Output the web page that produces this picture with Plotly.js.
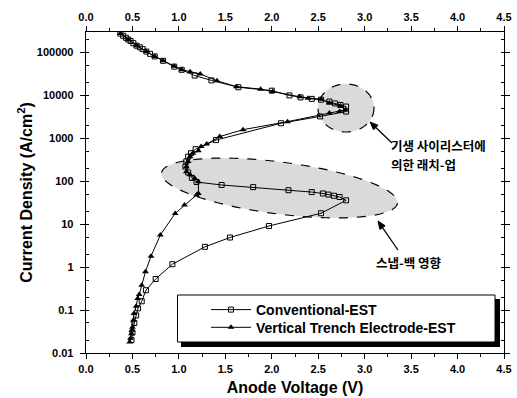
<!DOCTYPE html>
<html>
<head>
<meta charset="utf-8">
<script src="https://cdn.plot.ly/plotly-3.0.1.min.js"></script>
<style>html,body{margin:0;padding:0;background:#fff;}#chart{width:517px;height:398px;}</style>
</head>
<body>
<div id="chart"></div>
<script>
// ---- data ----
const convV = [0.49, 0.50, 0.52, 0.54, 0.56, 0.60, 0.645, 0.75, 0.93, 1.28, 1.55, 1.97, 2.53, 2.80,
  2.73, 2.67, 2.61, 2.55, 2.43, 2.18, 1.80, 1.46, 1.19,
  1.14, 1.10, 1.07, 1.08, 1.10, 1.13, 1.18, 1.40, 2.10, 2.52, 2.80,
  2.80, 2.74, 2.68, 2.62, 2.53, 2.43, 2.31, 2.19, 2.00, 1.64, 1.35, 1.17, 1.03, 0.95, 0.83, 0.74, 0.69, 0.65, 0.61, 0.58, 0.545, 0.51, 0.48, 0.455, 0.43, 0.40, 0.37];
const convJ = [0.02, 0.03, 0.05, 0.075, 0.11, 0.16, 0.29, 0.53, 1.17, 2.97, 4.9, 9.1, 18, 36,
  43, 46, 49, 52, 56, 62, 73, 82, 96,
  120, 160, 220, 290, 375, 450, 560, 910, 2250, 3240, 4200,
  5500, 6000, 6500, 7200, 7950, 8300, 9000, 10000, 12900, 15500, 22400, 29000, 39500, 46800, 64000, 81000, 93000, 105000, 120000, 132000, 144000, 165000, 185000, 200000, 220000, 245000, 275000];

const vteV = [0.47, 0.48, 0.49, 0.495, 0.50, 0.51, 0.516, 0.54, 0.556, 0.573, 0.60, 0.64, 0.70, 0.80, 0.96, 1.06, 1.19,
  1.21, 1.21, 1.17, 1.12, 1.08, 1.08, 1.10, 1.12, 1.15, 1.21, 1.24, 1.30, 1.44, 1.69, 2.17, 2.62, 2.73, 2.79,
  2.74, 2.62, 2.53, 2.39, 2.30, 2.01, 1.88, 1.62, 1.41, 1.23, 1.12, 1.03, 0.95, 0.83, 0.74, 0.65, 0.545, 0.455, 0.37];
const vteJ = [0.018, 0.022, 0.028, 0.034, 0.04, 0.058, 0.083, 0.123, 0.186, 0.23, 0.38, 0.78, 1.8, 5.6, 17.8, 28, 48,
  52, 98, 117, 141, 166, 219, 288, 372, 447, 513, 645, 740, 1100, 1590, 2450, 3900, 4200, 4600,
  5700, 6700, 8100, 8600, 9300, 12300, 14000, 16000, 21900, 31600, 35500, 39800, 48000, 64000, 81000, 105000, 144000, 200000, 275000];

const seriesNames = ['Conventional-EST', 'Vertical Trench Electrode-EST'];
const yTickVals = [0.01, 0.1, 1, 10, 100, 1000, 10000, 100000];
const yTickText = ['0.01', '0.1', '1', '10', '100', '1000', '10000', '100000'];
const xTitle = 'Anode Voltage (V)';
const yTitle = 'Current Density (A/cm<sup>2</sup>)';
const noteLatch = ['기생 사이리스터에', '의한 래치-업'];
const noteSnap = '스냅-백 영향';

// ---- layout geometry ----
const W = 517, H = 398;
const M = {l: 86, r: 13, t: 32, b: 45};
const PW = W - M.l - M.r, PH = H - M.t - M.b;
const px = v => (v - M.l) / PW;          // pixel -> paper x
const py = v => (H - M.b - v) / PH;      // pixel -> paper y

function ellipsePath(cx, cy, a, b, deg) {
  const t = deg * Math.PI / 180, n = 72;
  let s = '';
  for (let i = 0; i <= n; i++) {
    const u = 2 * Math.PI * i / n;
    const X = cx + a * Math.cos(u) * Math.cos(t) - b * Math.sin(u) * Math.sin(t);
    const Y = cy + a * Math.cos(u) * Math.sin(t) + b * Math.sin(u) * Math.cos(t);
    s += (i === 0 ? 'M' : 'L') + px(X).toFixed(5) + ',' + py(Y).toFixed(5);
  }
  return s + 'Z';
}
// arrow (shaft + filled head) from tail (x1,y1) to tip (x0,y0), in pixels
function arrowShapes(x0, y0, x1, y1) {
  const dx = x0 - x1, dy = y0 - y1, L = Math.hypot(dx, dy);
  const ux = dx / L, uy = dy / L, hl = 8, hw = 3.2;
  const bx = x0 - ux * hl, by = y0 - uy * hl;
  const p1 = [bx - uy * hw, by + ux * hw], p2 = [bx + uy * hw, by - ux * hw];
  return [
    {type: 'line', xref: 'paper', yref: 'paper', x0: px(x1), y0: py(y1), x1: px(bx), y1: py(by),
     line: {color: '#000', width: 1.3}},
    {type: 'path', xref: 'paper', yref: 'paper',
     path: 'M' + px(x0) + ',' + py(y0) + 'L' + px(p1[0]) + ',' + py(p1[1]) + 'L' + px(p2[0]) + ',' + py(p2[1]) + 'Z',
     fillcolor: '#000', line: {color: '#000', width: 1}}
  ];
}

const FONT = 'Liberation Sans, Arial, sans-serif';
const KFONT = 'Noto Sans CJK KR, sans-serif';

const traces = [
  {x: convV, y: convJ, name: seriesNames[0], type: 'scatter', mode: 'lines+markers', legend: 'legend',
   line: {color: '#000', width: 1},
   marker: {symbol: 'square-open', size: 5, color: '#000', line: {width: 1, color: '#000'}}},
  {x: vteV, y: vteJ, name: seriesNames[1], type: 'scatter', mode: 'lines+markers', legend: 'legend2',
   line: {color: '#000', width: 1},
   marker: {symbol: 'triangle-up', size: 6, color: '#000'}},
  {x: [], y: [], xaxis: 'x2', yaxis: 'y', showlegend: false, hoverinfo: 'skip'}
];

const tickFont = {family: FONT, size: 11, color: '#000', weight: 'bold'};
const xCommon = {
  range: [0, 4.5], tick0: 0, dtick: 0.5, tickformat: '.1f',
  ticks: 'outside', ticklen: 5, tickwidth: 1, tickcolor: '#000',
  showline: true, linecolor: '#000', linewidth: 1.3,
  showgrid: false, zeroline: false, tickfont: tickFont,
  minor: {dtick: 0.25, ticks: 'outside', ticklen: 3, tickcolor: '#000', showgrid: false}
};
const legendFont = {family: FONT, size: 14, color: '#000', weight: 'bold'};
const noteFont = {family: KFONT, size: 12.5, color: '#000', weight: 'bold'};

const layout = {
  width: W, height: H, margin: M,
  paper_bgcolor: '#fff', plot_bgcolor: '#fff',
  showlegend: true,
  xaxis: Object.assign({}, xCommon, {
    title: {text: xTitle, font: {family: FONT, size: 16, color: '#000', weight: 'bold'}, standoff: 8}
  }),
  xaxis2: Object.assign({}, xCommon, {overlaying: 'x', side: 'top', anchor: 'y'}),
  yaxis: {
    type: 'log', range: [-2, Math.log10(300000)],
    tickmode: 'array', tickvals: yTickVals, ticktext: yTickText,
    ticks: 'outside', ticklen: 5, tickwidth: 1, tickcolor: '#000',
    mirror: 'ticks', showline: true, linecolor: '#000', linewidth: 1.3,
    showgrid: false, zeroline: false, tickfont: tickFont, ticklabelstandoff: 4,
    minor: {ticks: 'inside', ticklen: 3, tickcolor: '#000', showgrid: false},
    title: {text: yTitle, font: {family: FONT, size: 16, color: '#000', weight: 'bold'}, standoff: 0}
  },
  legend: {
    x: px(206), y: py(310), xanchor: 'left', yanchor: 'middle',
    bgcolor: 'rgba(0,0,0,0)', borderwidth: 0, font: legendFont, itemwidth: 40
  },
  legend2: {
    x: px(206), y: py(327.7), xanchor: 'left', yanchor: 'middle',
    bgcolor: 'rgba(0,0,0,0)', borderwidth: 0, font: legendFont, itemwidth: 40
  },
  shapes: [
    {type: 'path', xref: 'paper', yref: 'paper', layer: 'below', path: ellipsePath(279.5, 188, 119, 26, 7.3),
     fillcolor: 'rgba(150,150,150,0.35)', line: {color: '#000', width: 1.2, dash: 'dash'}},
    {type: 'path', xref: 'paper', yref: 'paper', layer: 'below', path: ellipsePath(346, 108, 28, 24, 0),
     fillcolor: 'rgba(150,150,150,0.35)', line: {color: '#000', width: 1.2, dash: 'dash'}},
    {type: 'rect', xref: 'paper', yref: 'paper', x0: px(181), x1: px(500), y0: py(299), y1: py(347),
     fillcolor: '#000', line: {width: 0}},
    {type: 'rect', xref: 'paper', yref: 'paper', x0: px(177.5), x1: px(495), y0: py(295), y1: py(342),
     fillcolor: '#fff', line: {color: '#000', width: 1}}
  ].concat(arrowShapes(370, 122, 392, 143), arrowShapes(378, 221, 398, 250)),
  annotations: [
    {xref: 'paper', yref: 'paper', x: px(389), y: py(145.5), xanchor: 'left', yanchor: 'middle',
     text: noteLatch[0], showarrow: false, font: noteFont},
    {xref: 'paper', yref: 'paper', x: px(389), y: py(164.5), xanchor: 'left', yanchor: 'middle',
     text: noteLatch[1], showarrow: false, font: noteFont},
    {xref: 'paper', yref: 'paper', x: px(408), y: py(262), xanchor: 'center', yanchor: 'middle',
     text: noteSnap, showarrow: false, font: noteFont}
  ]
};

Plotly.newPlot('chart', traces, layout, {staticPlot: true, displayModeBar: false});
</script>
</body>
</html>
